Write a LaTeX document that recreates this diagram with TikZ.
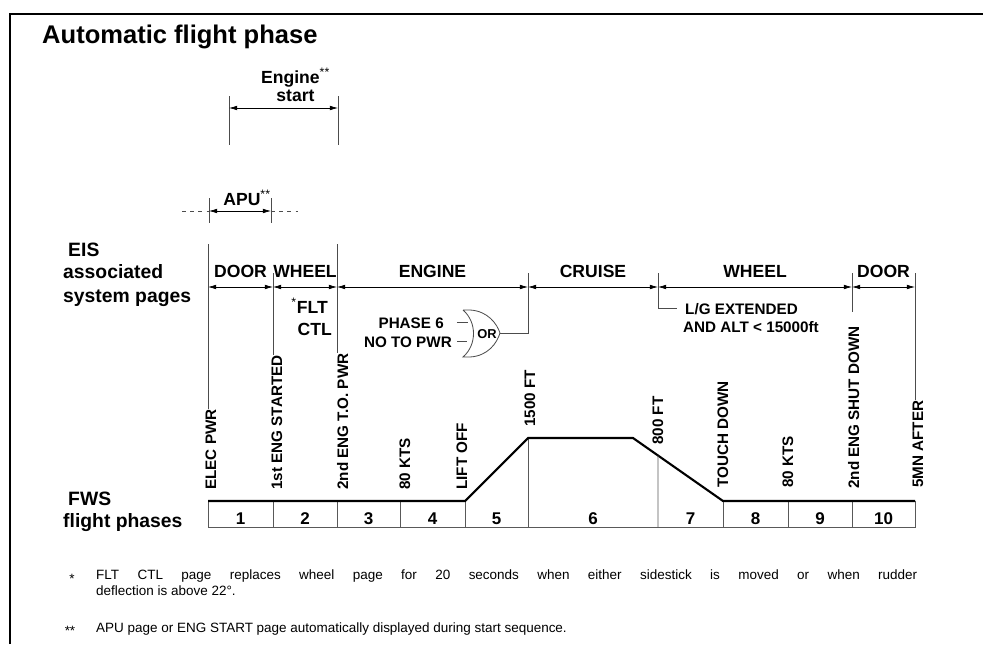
\documentclass[tikz,border=0pt]{standalone}
\usepackage{fontspec}
\setmainfont{Liberation Sans}
\usetikzlibrary{arrows.meta,calc,intersections}

\tikzset{
  heading/.style={font=\bfseries\fontsize{21.8}{24}\selectfont, inner sep=0pt},
  side/.style={font=\bfseries\fontsize{16.5}{18}\selectfont, inner sep=0pt, anchor=base west},
  lbl/.style={font=\bfseries\fontsize{15}{17}\selectfont, inner sep=0pt},
  evt/.style={rotate=90, anchor=base west, font=\bfseries\fontsize{13}{15}\selectfont, inner sep=0pt},
  cond/.style={font=\bfseries\fontsize{13}{15}\selectfont, inner sep=0pt},
  num/.style={font=\bfseries\fontsize{14.5}{16}\selectfont, inner sep=0pt, anchor=base},
  note/.style={font=\fontsize{11.5}{13}\selectfont, inner sep=0pt, anchor=base west},
  tick/.style={draw=black!70, line width=0.7pt},
  span/.style={draw, line width=0.6pt, {Latex[length=7pt,width=4pt]}-{Latex[length=7pt,width=4pt]}},
  profile/.style={draw, line width=1.8pt},
  cell/.style={draw=black!65, line width=0.7pt},
}

\begin{document}
\begin{tikzpicture}[x=0.03cm, y=-0.03cm]
  \useasboundingbox (0,0) rectangle (983,644);
  % frame
  \path[draw, line width=1.2pt] (10,644) -- (10,14) -- (983,14);
  \node[heading, anchor=base west] (title) at (42,43) {Automatic flight phase};
  % levels
  \coordinate (top) at (0,244);
  \coordinate (cap) at (0,273);
  \coordinate (climb) at (0,438);
  \coordinate (ground) at (0,501);
  \coordinate (numrow) at (0,524);
  \coordinate (base) at (0,527);
  % events on the page row
  \foreach \n/\x in {elec/208, eng1/273, eng2/337, kts1/400, lift/465, ft15/528, ft8/658, touch/723, kts2/788, shut/852, after/915}
    \coordinate (\n) at (\x,287);
  % side labels
  \node[side] (eis) at (68,256) {EIS};
  \node[side] (assoc) at (63,278) {associated};
  \node[side] (pages) at (63,302) {system pages};
  \node[side] (fws) at (68,505) {FWS};
  \node[side] (fph) at (63,527) {flight phases};
  % engine start
  \coordinate (es1) at (229,108);
  \coordinate (es2) at (338,108);
  \path[tick] ($(es1)+(0,-12)$) -- ($(es1)+(0,37)$);
  \path[tick] ($(es2)+(0,-12)$) -- ($(es2)+(0,37)$);
  \path[span] (es1) -- (es2);
  \node[lbl, anchor=base] (engine) at (295.5,83) {Engine\textsuperscript{\mdseries **}};
  \node[lbl, anchor=base] (start) at (295.5,101) {start};
  % APU
  \coordinate (apu1) at (209,211);
  \coordinate (apu2) at (271,211);
  \path[tick] ($(apu1)+(0,-13)$) -- ($(apu1)+(0,12)$);
  \path[tick] ($(apu2)+(0,-13)$) -- ($(apu2)+(0,12)$);
  \path[span] (apu1) -- (apu2);
  \path[draw=black!70, line width=0.7pt, dash pattern=on 3pt off 4pt] (182,211) -- (apu1);
  \path[draw=black!70, line width=0.7pt, dash pattern=on 3pt off 4pt] (apu2) -- (298,211);
  \node[lbl, anchor=base] (apu) at (247,205) {APU\textsuperscript{\mdseries **}};
  % system pages
  \foreach \a/\b/\t in {elec/eng1/DOOR, eng1/eng2/WHEEL, eng2/ft15/ENGINE, ft15/ft8/CRUISE, ft8/shut/WHEEL, shut/after/DOOR}
    \path[span] (\a) -- (\b) node[lbl, midway, anchor=base, yshift=8.5pt] {\t};
  % event labels
  \foreach \n/\x/\y/\t in {elec/216/490/ELEC PWR, eng1/282/490/1st ENG STARTED, eng2/348/490/2nd ENG T.O. PWR, kts1/410/490/80 KTS, lift/467/490/LIFT OFF, ft15/535/427/1500 FT, ft8/663/445/800 FT, touch/728/488/TOUCH DOWN, kts2/793/488/80 KTS, shut/859/489/2nd ENG SHUT DOWN, after/923/488/5MN AFTER}
    \node[evt] (t-\n) at (\x,\y) {\t};
  % OR gate
  \path[draw=black!70, line width=0.7pt] (463,310) -- (470,310) .. controls (488,311) and (497,324) .. (500,333) coordinate (orout) .. controls (497,343) and (488,356) .. (470,357) -- (463,357) .. controls (477,345) and (477,322) .. (463,310);
  \node[font=\bfseries\fontsize{11}{12}\selectfont, inner sep=0pt] (or) at (487,334) {OR};
  \node[cond, anchor=base east] (ph6) at (444,328) {PHASE 6};
  \node[cond, anchor=base east] (noto) at (452,347) {NO TO PWR};
  \path[tick] ([xshift=11pt]ph6.east) -- ([xshift=20.5pt]ph6.east);
  \path[tick] ([xshift=4.3pt]noto.east) -- ([xshift=12.8pt]noto.east);
  % L/G condition
  \node[cond, anchor=base west] (lg1) at (685,314) {L/G EXTENDED};
  \node[cond, anchor=base west] (lg2) at (683,332) {AND ALT < 15000ft};
  % FLT CTL
  \node[lbl, anchor=base east] (flt) at (328,313) {\textsuperscript{\mdseries *}FLT};
  \node[lbl, anchor=base east] (ctl) at (332,335) {CTL};
  % ticks
  \path[tick] (elec |- top) -- (elec |- t-elec.east);
  \path[tick] (eng1 |- cap) -- (eng1 |- t-eng1.east);
  \path[tick] (eng2 |- top) -- (eng2 |- t-eng2.east);
  \path[tick] (ft15 |- cap) |- (orout);
  \path[tick] (ft8 |- cap) |- ([xshift=-7pt]lg1.west);
  \path[tick] (shut |- cap) -- ++(0,39);
  \path[tick] (after |- cap) -- (after |- t-after.east);
  % flight phases
  \path[cell] (elec |- ground) -- (elec |- base) -- (after |- base) -- (after |- ground);
  \foreach \n in {eng1, eng2, kts1, lift, touch, kts2, shut}
    \path[cell] (\n |- ground) -- (\n |- base);
  \path[cell] (ft15 |- climb) -- (ft15 |- base);
  \path[profile, name path=prof] (elec |- ground) -- (lift |- ground) -- (ft15 |- climb) -- (633,438) -- (touch |- ground) -- (after |- ground);
  \path[name path=v8] (ft8 |- climb) -- (ft8 |- base);
  \path[name intersections={of=prof and v8}];
  \coordinate (d8) at (intersection-1);
  \path[cell] (d8) -- (ft8 |- base);
  \foreach \a/\b/\k in {elec/eng1/1, eng1/eng2/2, eng2/kts1/3, kts1/lift/4, lift/ft15/5, ft15/ft8/6, ft8/touch/7, touch/kts2/8, kts2/shut/9, shut/after/10}
    \node[num] (p\k) at ($(\a |- numrow)!0.5!(\b |- numrow)$) {\k};
  % notes
  \node[note, anchor=base] (star1) at (72,583) {*};
  \node[note] (note1) at (96,579) {\makebox[24.63cm][s]{FLT CTL page replaces wheel page for 20 seconds when either sidestick is moved or when rudder}};
  \node[note] (note1b) at (96,595) {deflection is above 22°.};
  \node[note, anchor=base] (star2) at (70,635) {**};
  \node[note] (note2) at (96,632) {APU page or ENG START page automatically displayed during start sequence.};
\end{tikzpicture}
\end{document}
